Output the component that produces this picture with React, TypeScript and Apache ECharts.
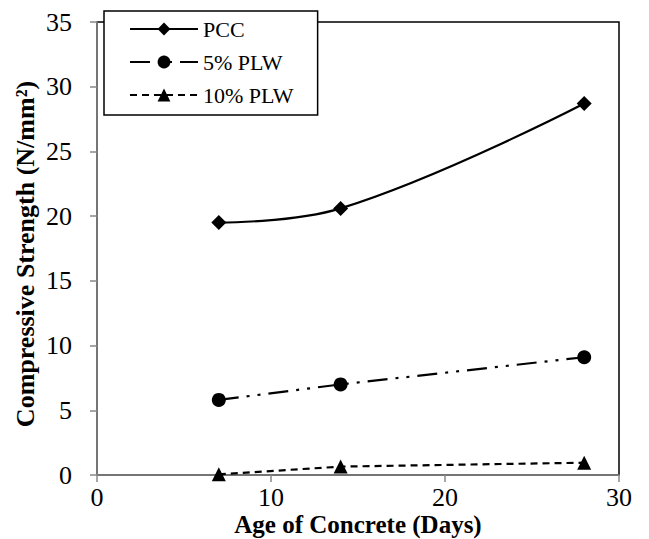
import React, { useEffect, useRef } from "react";
import * as echarts from "echarts";

const days = [7, 14, 28];
const pcc = [19.5, 20.6, 28.7];
const plw5 = [5.8, 7.0, 9.1];
const plw10 = [0.05, 0.65, 0.95];
const seriesNames = ["PCC", "5% PLW", "10% PLW"];
const xTitle = "Age of Concrete (Days)";
const yTitle = "Compressive Strength (N/mm²)";

const FONT = "Liberation Serif";

export default function App() {
  const ref = useRef<HTMLDivElement>(null);
  useEffect(() => {
    if (!ref.current) return;
    const chart = echarts.init(ref.current, undefined, { renderer: "svg" });
    const pair = (ys: number[]) => days.map((d, i) => [d, ys[i]]);
    chart.setOption({
      animation: false,
      textStyle: { fontFamily: FONT },
      grid: {
        left: 97,
        right: 30,
        top: 22,
        bottom: 64,
        show: true,
        borderColor: "#000",
        borderWidth: 1.5,
        containLabel: false,
        outerBoundsMode: "none",
      },
      graphic: [
        {
          type: "text",
          x: 25,
          y: 254,
          rotation: Math.PI / 2,
          style: {
            text: yTitle,
            fontFamily: FONT,
            fontSize: 26,
            fontWeight: "bold",
            fill: "#000",
            align: "center",
            verticalAlign: "middle",
          },
        },
        {
          type: "text",
          x: 358,
          y: 524,
          style: {
            text: xTitle,
            fontFamily: FONT,
            fontSize: 25,
            fontWeight: "bold",
            fill: "#000",
            align: "center",
            verticalAlign: "middle",
          },
        },
      ],
      legend: {
        orient: "vertical",
        left: 104,
        top: 11,
        padding: [7, 24, 9, 25],
        itemGap: 11,
        itemWidth: 68,
        itemHeight: 16,
        borderColor: "#000",
        borderWidth: 1.5,
        backgroundColor: "#fff",
        data: seriesNames,
        textStyle: { fontFamily: FONT, fontSize: 22, color: "#000", lineHeight: 22 },
      },
      xAxis: {
        type: "value",
        min: 0,
        max: 30,
        interval: 10,
        axisLine: { show: true, lineStyle: { color: "#888", width: 1.5 } },
        axisTick: { show: true, length: 7, lineStyle: { color: "#888", width: 1.5 } },
        axisLabel: { fontFamily: FONT, fontSize: 26, color: "#000", margin: 9 },
        splitLine: { show: false },
      },
      yAxis: {
        type: "value",
        min: 0,
        max: 35,
        interval: 5,
        axisLine: { show: true, lineStyle: { color: "#888", width: 1.5 } },
        axisTick: { show: true, length: 7, lineStyle: { color: "#888", width: 1.5 } },
        axisLabel: { fontFamily: FONT, fontSize: 26, color: "#000", margin: 25 },
        splitLine: { show: false },
      },
      series: [
        {
          name: seriesNames[0],
          type: "line",
          data: pair(pcc),
          smooth: 0.4,
          symbol: "diamond",
          symbolSize: 15,
          lineStyle: { color: "#000", width: 2.2, type: "solid" },
          itemStyle: { color: "#000" },
          z: 3,
        },
        {
          name: seriesNames[1],
          type: "line",
          data: pair(plw5),
          symbol: "circle",
          symbolSize: 14,
          lineStyle: { color: "#000", width: 2.2, type: [20, 8, 3, 8, 3, 8] },
          itemStyle: { color: "#000" },
          z: 3,
        },
        {
          name: seriesNames[2],
          type: "line",
          data: pair(plw10),
          symbol: "triangle",
          symbolSize: 14,
          lineStyle: { color: "#000", width: 2.2, type: [7, 5] },
          itemStyle: { color: "#000" },
          z: 3,
        },
      ],
    });
    return () => chart.dispose();
  }, []);
  return <div ref={ref} style={{ width: 649, height: 539, position: "absolute", left: 0, top: 0 }} />;
}
